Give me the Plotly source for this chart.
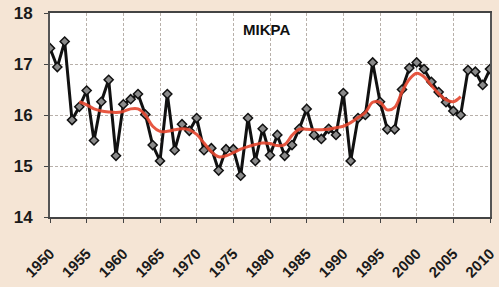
import plotly.graph_objects as go

years = list(range(1950, 2011))
temps = [17.31, 16.94, 17.44, 15.90, 16.16, 16.48, 15.50, 16.26, 16.69, 15.20,
         16.21, 16.31, 16.41, 16.01, 15.41, 15.10, 16.41, 15.31, 15.82, 15.69,
         15.94, 15.31, 15.35, 14.91, 15.33, 15.33, 14.81, 15.94, 15.10, 15.73,
         15.21, 15.61, 15.20, 15.41, 15.73, 16.12, 15.61, 15.53, 15.73, 15.61,
         16.43, 15.10, 15.94, 16.00, 17.03, 16.26, 15.72, 15.72, 16.50, 16.92,
         17.03, 16.90, 16.65, 16.45, 16.25, 16.08, 16.00, 16.88, 16.85, 16.59,
         16.90]

smooth_years = list(range(1954, 2007))
smooth_vals = [16.26, 16.20, 16.12, 16.08, 16.06, 16.05, 16.07, 16.12, 16.12, 16.00,
               15.78, 15.68, 15.68, 15.71, 15.73, 15.71, 15.62, 15.45, 15.28, 15.18,
               15.20, 15.26, 15.33, 15.38, 15.42, 15.45, 15.44, 15.40, 15.42, 15.60,
               15.72, 15.72, 15.71, 15.71, 15.72, 15.75, 15.78, 15.85, 15.95, 16.05,
               16.25, 16.25, 16.10, 16.15, 16.45, 16.70, 16.82, 16.75, 16.58, 16.42,
               16.30, 16.26, 16.36]

x_ticks = list(range(1950, 2011, 5))
y_ticks = [14, 15, 16, 17, 18]
title_text = "ΜΙΚΡΑ"

fig = go.Figure()
fig.add_trace(go.Scatter(
    x=years, y=temps, mode="lines+markers",
    line=dict(color="#111111", width=3),
    marker=dict(symbol="diamond", size=7, color="#8a8a8a",
                line=dict(color="#111111", width=1.5)),
    showlegend=False, hoverinfo="skip"))
fig.add_trace(go.Scatter(
    x=smooth_years, y=smooth_vals, mode="lines",
    line=dict(color="#e5452d", width=3, shape="spline", smoothing=1.0),
    opacity=0.9, showlegend=False, hoverinfo="skip"))

fig.add_annotation(text="<b>" + title_text + "</b>", xref="paper", yref="paper",
                   x=0.493, y=0.92, xanchor="center", yanchor="middle", showarrow=False,
                   font=dict(family="Liberation Sans, Arial", size=15, color="#111111"))

fig.update_layout(
    width=499, height=287,
    margin=dict(l=50, r=9, t=13, b=70),
    paper_bgcolor="#f5e5d5",
    plot_bgcolor="#ffffff",
    font=dict(family="Liberation Sans, Arial", color="#222222"),
    xaxis=dict(range=[1950, 2010], tickvals=x_ticks, ticktext=[str(v) for v in x_ticks],
               tickangle=-45, tickfont=dict(size=15, weight="bold", color="#1a1a1a"),
               showgrid=True,
               gridcolor="#b8b0aa", griddash="3px,2px", gridwidth=1,
               showline=True, linecolor="#444444", linewidth=2, mirror=True,
               ticks="outside", ticklen=4, tickcolor="#444444", zeroline=False,
               ticklabelstandoff=16, automargin=False),
    yaxis=dict(range=[14, 18], tickvals=y_ticks,
               tickfont=dict(size=17, weight="bold", color="#1a1a1a"),
               showgrid=True, gridcolor="#b8b0aa", griddash="3px,2px", gridwidth=1,
               showline=True, linecolor="#555555", linewidth=2, mirror=True,
               ticks="outside", ticklen=4, tickcolor="#444444",
               ticklabelstandoff=8, zeroline=False, automargin=False),
)

fig.write_html("out.html", config={"displayModeBar": False},
               post_script="document.body.style.margin='0';document.body.style.overflow='hidden';")
